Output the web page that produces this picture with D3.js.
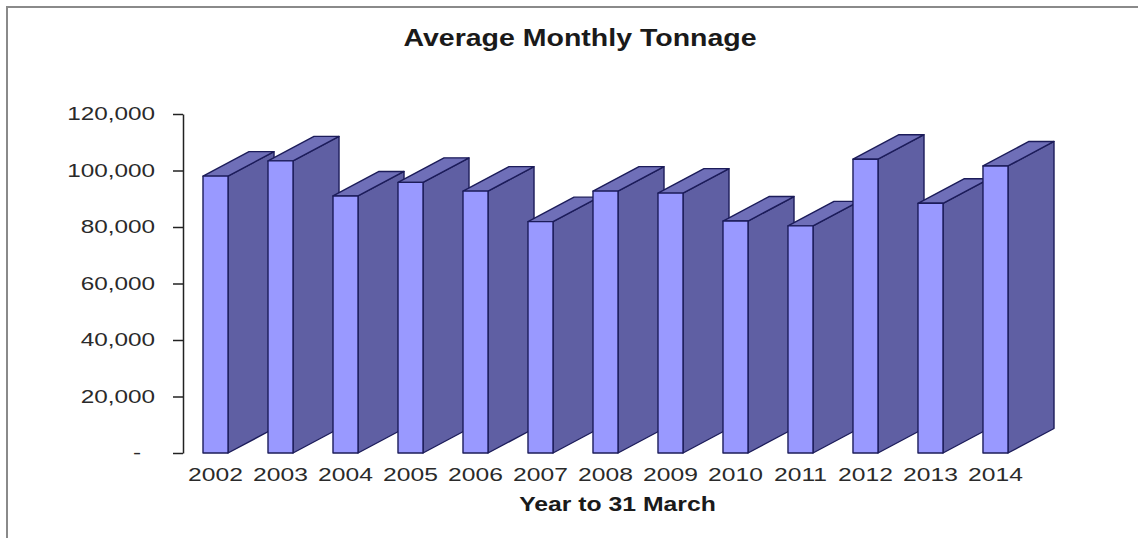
<!DOCTYPE html>
<html>
<head>
<meta charset="utf-8">
<script src="https://cdn.jsdelivr.net/npm/d3@7"></script>
<style>
  html, body { margin: 0; padding: 0; background: #fff; }
  svg { display: block; font-family: "Liberation Sans", Arial, sans-serif; }
</style>
</head>
<body>
<svg id="chart" width="1138" height="538"></svg>
<script>
// Average monthly tonnage, year to 31 March
const years = ["2002", "2003", "2004", "2005", "2006", "2007", "2008",
               "2009", "2010", "2011", "2012", "2013", "2014"];
const tonnage = [98000, 103400, 91000, 95800, 92700, 81900, 92700,
                 92000, 82100, 80400, 104000, 88400, 101600];
const yTicks = [0, 20000, 40000, 60000, 80000, 100000, 120000];

const svg = d3.select("#chart");

// frame lines (top and left)
svg.append("line").attr("x1", 6).attr("x2", 1138).attr("y1", 7).attr("y2", 7)
  .attr("stroke", "#8a8a8a").attr("stroke-width", 2);
svg.append("line").attr("x1", 7).attr("x2", 7).attr("y1", 6).attr("y2", 538)
  .attr("stroke", "#8a8a8a").attr("stroke-width", 2);

const axisX = 183;
const y = d3.scaleLinear().domain([0, 120000]).range([453, 114]);
const x = d3.scaleBand().domain(years).range([203, 1008])
  .paddingInner(0.615).paddingOuter(0);

// oblique depth of the 3-D columns
const depthX = 46, depthY = -24.5;

const fmt = d3.format(",");
const yAxis = d3.axisLeft(y).tickValues(yTicks)
  .tickSizeInner(10).tickSizeOuter(0)
  .tickFormat(d => d === 0 ? "-" : fmt(d));

const sxY = 1.39;
const gy = svg.append("g").attr("transform", `translate(${axisX},0)`).call(yAxis);
gy.select(".domain").attr("stroke", "#222").attr("stroke-width", 1.5);
gy.selectAll(".tick line").attr("stroke", "#222").attr("stroke-width", 1.5);
gy.selectAll(".tick text")
  .attr("font-size", 17.5)
  .attr("fill", "#2a2a2a")
  .attr("font-family", "Liberation Sans, Arial, sans-serif")
  .attr("x", d => d === 0 ? -42 / sxY : -28 / sxY)
  .attr("transform", `scale(${sxY},1)`);

// columns: drawn left to right so each front face covers the previous side
const bars = svg.append("g").attr("stroke", "#1c1c5a").attr("stroke-width", 1.4)
  .attr("stroke-linejoin", "round");

years.forEach((yr, i) => {
  const x0 = x(yr), x1 = x0 + x.bandwidth();
  const yt = y(tonnage[i]), yb = y(0);
  const g = bars.append("g");
  // side face
  g.append("path")
    .attr("d", `M${x1},${yb}L${x1 + depthX},${yb + depthY}L${x1 + depthX},${yt + depthY}L${x1},${yt}Z`)
    .attr("fill", "#5f5fa3");
  // top face
  g.append("path")
    .attr("d", `M${x0},${yt}L${x0 + depthX},${yt + depthY}L${x1 + depthX},${yt + depthY}L${x1},${yt}Z`)
    .attr("fill", "#6f6fb8");
  // front face
  g.append("rect")
    .attr("x", x0).attr("y", yt)
    .attr("width", x.bandwidth()).attr("height", yb - yt)
    .attr("fill", "#9999ff");
});

// category labels
const sxX = 1.37;
svg.append("g").selectAll("text").data(years).join("text")
  .attr("transform", d => `translate(${x(d) + x.bandwidth() / 2},481) scale(${sxX},1)`)
  .attr("text-anchor", "middle")
  .attr("font-size", 18)
  .attr("fill", "#2a2a2a")
  .text(d => d);

// title
svg.append("text")
  .attr("transform", "translate(580,46) scale(1.24,1)")
  .attr("text-anchor", "middle")
  .attr("font-size", 23)
  .attr("font-weight", "bold")
  .attr("fill", "#1a1a1a")
  .text("Average Monthly Tonnage");

// axis title
svg.append("text")
  .attr("transform", "translate(617.5,510.5) scale(1.27,1)")
  .attr("text-anchor", "middle")
  .attr("font-size", 19.5)
  .attr("font-weight", "bold")
  .attr("fill", "#1a1a1a")
  .text("Year to 31 March");
</script>
</body>
</html>
